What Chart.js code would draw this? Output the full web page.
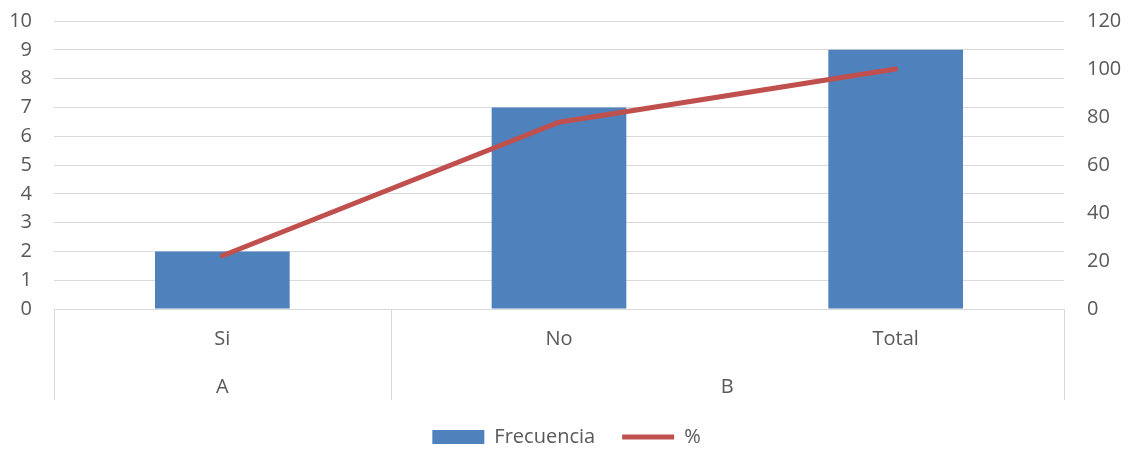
<!DOCTYPE html>
<html>
<head>
<meta charset="utf-8">
<script src="https://cdn.jsdelivr.net/npm/chart.js@4/dist/chart.umd.min.js"></script>
<style>
  html, body { margin: 0; padding: 0; background: #fff; }
  #wrap { width: 1133px; height: 449px; }
</style>
</head>
<body>
<div id="wrap"><canvas id="chart"></canvas></div>
<script>
// data
const categories = ['Si', 'No', 'Total'];
const groups = ['A', 'B'];
const groupSpans = [1, 2];
const frecuencia = [2, 7, 9];
const porcentaje = [22.2, 77.8, 100];
const leftTicks = [0, 1, 2, 3, 4, 5, 6, 7, 8, 9, 10];
const rightTicks = [0, 20, 40, 60, 80, 100, 120];

const textColor = '#595959';
const gridColor = '#d9d9d9';
const fontFamily = "'Open Sans', 'Noto Sans', sans-serif";
const fontSize = 20;

// group labels + vertical separators under the category axis
const groupAxis = {
  id: 'groupAxis',
  afterDraw(chart) {
    const ctx = chart.ctx;
    const x = chart.scales.x;
    const top = chart.chartArea.bottom;
    const bottom = top + 91;
    let edges = [x.left];
    let idx = 0;
    groupSpans.forEach(span => {
      idx += span;
      if (idx >= categories.length) edges.push(x.right);
      else edges.push((x.getPixelForValue(idx - 1) + x.getPixelForValue(idx)) / 2);
    });
    ctx.save();
    ctx.strokeStyle = gridColor;
    ctx.lineWidth = 1;
    edges.forEach(e => {
      const px = Math.round(e) + 0.5;
      ctx.beginPath();
      ctx.moveTo(px, top);
      ctx.lineTo(px, bottom);
      ctx.stroke();
    });
    ctx.fillStyle = textColor;
    ctx.font = fontSize + 'px ' + fontFamily;
    ctx.textAlign = 'center';
    ctx.textBaseline = 'middle';
    groups.forEach((g, i) => {
      ctx.fillText(g, (edges[i] + edges[i + 1]) / 2, top + 78);
    });
    ctx.restore();
  }
};

function noVPad(s) { s.paddingTop = 0; s.paddingBottom = 0; }

new Chart(document.getElementById('chart'), {
  type: 'bar',
  data: {
    labels: categories,
    datasets: [
      {
        type: 'line',
        label: '%',
        data: porcentaje,
        yAxisID: 'y1',
        borderColor: '#C0504D',
        backgroundColor: '#C0504D',
        borderWidth: 5,
        borderCapStyle: 'round',
        pointRadius: 0,
        pointStyle: 'line',
        tension: 0,
        order: 0
      },
      {
        label: 'Frecuencia',
        data: frecuencia,
        yAxisID: 'y',
        backgroundColor: '#4F81BD',
        borderWidth: 0,
        categoryPercentage: 1,
        barPercentage: 0.4,
        order: 1
      }
    ]
  },
  options: {
    responsive: true,
    maintainAspectRatio: false,
    animation: false,
    layout: { padding: { top: 21, right: 0, left: 0, bottom: -8 } },
    plugins: {
      tooltip: { enabled: false },
      legend: {
        position: 'bottom',
        reverse: true,
        labels: {
          color: textColor,
          font: { size: fontSize, family: fontFamily },
          usePointStyle: true,
          pointStyleWidth: 52,
          boxHeight: 14,
          padding: 27,
          generateLabels(chart) {
            const items = Chart.defaults.plugins.legend.labels.generateLabels(chart);
            items.forEach(it => {
              if (it.datasetIndex === 1) { it.pointStyle = 'rect'; it.lineWidth = 0; }
              else { it.pointStyle = 'line'; it.lineWidth = 5; }
            });
            return items;
          }
        }
      }
    },
    scales: {
      x: {
        grid: { display: false, drawTicks: false },
        border: { display: false },
        ticks: { color: textColor, font: { size: fontSize, family: fontFamily }, padding: 18 },
        afterFit(s) { s.height = 91; }
      },
      y: {
        position: 'left',
        min: 0,
        max: 10,
        afterBuildTicks(s) { s.ticks = leftTicks.map(v => ({ value: v })); },
        grid: { color: gridColor, lineWidth: 1, drawTicks: false },
        border: { display: false },
        ticks: { color: textColor, font: { size: fontSize, family: fontFamily }, padding: 22 },
        afterFit(s) { s.width = 54; noVPad(s); }
      },
      y1: {
        position: 'right',
        min: 0,
        max: 120,
        afterBuildTicks(s) { s.ticks = rightTicks.map(v => ({ value: v })); },
        grid: { display: false, drawTicks: false },
        border: { display: false },
        ticks: { color: textColor, font: { size: fontSize, family: fontFamily }, padding: 23 },
        afterFit(s) { s.width = 69; noVPad(s); }
      }
    }
  },
  plugins: [groupAxis]
});
</script>
</body>
</html>
